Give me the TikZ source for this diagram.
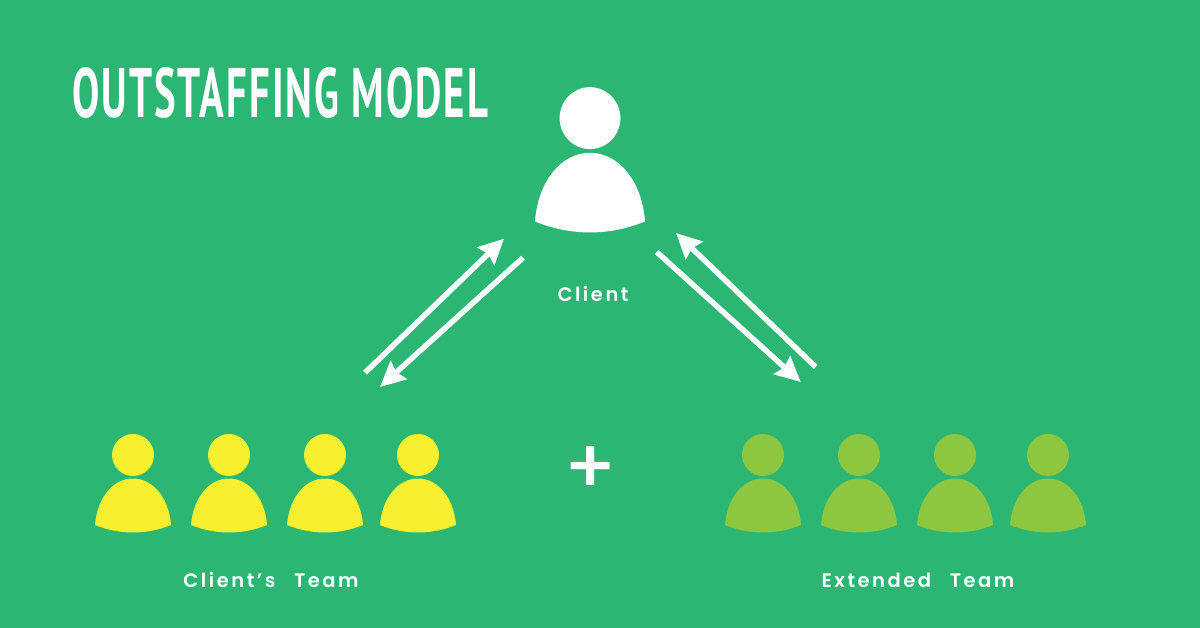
\documentclass[tikz,border=0pt]{standalone}
\usepackage{fontspec}
\usetikzlibrary{arrows.meta}
\setmainfont{Poppins}
\newfontfamily\labfont[LetterSpace=13,WordSpace=2.6]{Poppins SemiBold}
\newfontfamily\plusfont{Poppins Medium}
\newfontfamily\titlefont[LetterSpace=5]{PT Sans}
\definecolor{bggreen}{HTML}{2BB673}
\definecolor{teamyellow}{HTML}{F7EF2F}
\definecolor{teamgreen}{HTML}{8DC63F}
\tikzset{
  x=1pt,y=-1pt,
  lab/.style={text=white,inner sep=0pt,font=\labfont\fontsize{19.5}{22}\selectfont,anchor=base},
  flow/.style={draw=white,line width=5.5pt,-{Stealth[length=25pt,width=24pt,inset=3pt]}},
  person/.pic={
    \fill (0,-65) circle (21);
    \fill (-38,5) .. controls (-36,-22) and (-20,-41.5) .. (0,-41.5)
      .. controls (20,-41.5) and (36,-22) .. (38,5)
      .. controls (14,15) and (-14,15) .. (-38,5) -- cycle;
  }
}
\begin{document}
\begin{tikzpicture}
\fill[bggreen] (0,0) rectangle (1200,628);
\useasboundingbox (0,0) rectangle (1200,628);
% title
\node[text=white,inner sep=0pt,anchor=base west] (title) at (72,118)
  {\resizebox{416pt}{50pt}{\titlefont\bfseries OUTSTAFFING MODEL}};
% client
\begin{scope}[fill=white]
  \pic[xscale=1.447,yscale=1.475] at (590,214) {person};
\end{scope}
\node[lab] (clientlabel) at (593,302) {Client};
% yellow team
\begin{scope}[fill=teamyellow]
  \foreach \px in {133,229,325,418} \pic at (\px,520) {person};
\end{scope}
\node[lab] (teamlabel) at (271,587) {Client’s Team};
% green team
\begin{scope}[fill=teamgreen]
  \foreach \px in {763,859,955,1048} \pic at (\px,520) {person};
\end{scope}
\node[lab] (extlabel) at (918,587) {Extended Team};
% plus
\node[text=white,inner sep=0pt,font=\plusfont\fontsize{76}{76}\selectfont] (plus) at (591,470) {+};
% connectors
\coordinate (a1) at (365,372.7); \coordinate (a2) at (504,238.7);
\coordinate (b1) at (523,257.7); \coordinate (b2) at (380,387);
\coordinate (c1) at (656.7,252); \coordinate (c2) at (800.7,382);
\coordinate (d1) at (815.7,367); \coordinate (d2) at (676,233);
\draw[flow] (a1) -- (a2);
\draw[flow] (b1) -- (b2);
\draw[flow] (c1) -- (c2);
\draw[flow] (d1) -- (d2);
\end{tikzpicture}
\end{document}
